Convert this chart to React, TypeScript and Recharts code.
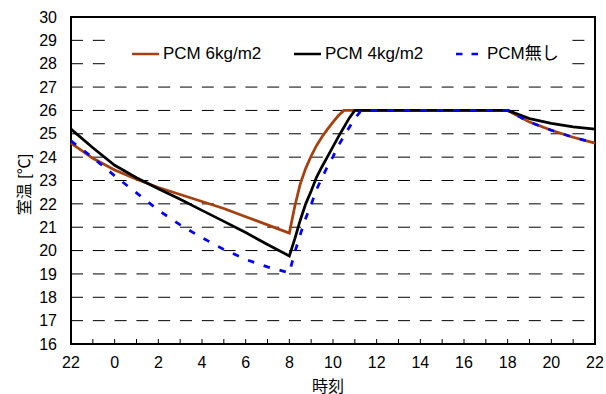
import React from 'react';
import { LineChart, Line, XAxis, YAxis, CartesianGrid, Legend, ReferenceArea } from 'recharts';

// hours after 22:00 (0 = 22時, 24 = 翌22時)
const hours = [
  0, 1, 2, 3, 4, 5, 6, 7, 8, 9, 10,
  10.25, 10.5, 10.75, 11, 11.25, 11.5, 11.75, 12, 12.25, 12.5, 12.75, 13, 13.25, 13.5,
  14, 15, 16, 17, 18, 19, 20, 21, 22, 23, 24,
];

const pcm6 = [
  24.6, 23.95, 23.45, 23.05, 22.7, 22.4, 22.1, 21.8, 21.45, 21.1, 20.75,
  21.9, 22.85, 23.52, 24.05, 24.5, 24.87, 25.2, 25.5, 25.78, 26.0, 26.0, 26.0, 26.0, 26.0,
  26.0, 26.0, 26.0, 26.0, 26.0, 26.0, 26.0, 25.5, 25.15, 24.85, 24.6,
];
const pcm4 = [
  25.2, 24.4, 23.65, 23.12, 22.65, 22.2, 21.72, 21.25, 20.77, 20.26, 19.77,
  20.5, 21.3, 22.0, 22.55, 23.15, 23.6, 24.02, 24.45, 24.88, 25.28, 25.68, 26.0, 26.0, 26.0,
  26.0, 26.0, 26.0, 26.0, 26.0, 26.0, 26.0, 25.65, 25.45, 25.3, 25.2,
];
const noPcm = [
  24.7, 23.98, 23.2, 22.47, 21.73, 21.1, 20.55, 20.05, 19.62, 19.3, 19.05,
  19.93, 20.68, 21.38, 21.97, 22.62, 23.13, 23.6, 24.02, 24.5, 24.9, 25.28, 25.65, 25.95, 26.0,
  26.0, 26.0, 26.0, 26.0, 26.0, 26.0, 26.0, 25.5, 25.15, 24.85, 24.6,
];

const xTicks = [0, 1, 2, 3, 4, 5, 6, 7, 8, 9, 10, 11, 12, 13, 14, 15, 16, 17, 18, 19, 20, 21, 22, 23, 24];
const xTickLabels = ['22', '', '0', '', '2', '', '4', '', '6', '', '8', '', '10', '', '12', '', '14', '', '16', '', '18', '', '20', '', '22'];
const yTicks = [16, 17, 18, 19, 20, 21, 22, 23, 24, 25, 26, 27, 28, 29, 30];

const series = [
  { key: 'pcm6', name: 'PCM 6kg/m2', color: '#a5400f', dash: undefined, legendDash: undefined },
  { key: 'pcm4', name: 'PCM 4kg/m2', color: '#000000', dash: undefined, legendDash: undefined },
  { key: 'noPcm', name: 'PCM無し', color: '#0000ff', dash: '6.5 10', legendDash: '6.5 9' },
];

const data = hours.map((h, i) => ({ h, pcm6: pcm6[i], pcm4: pcm4[i], noPcm: noPcm[i] }));

const HourTick = (props: any) => {
  const { x, y, payload } = props;
  const label = xTickLabels[payload.value] ?? '';
  return (
    <g>
      <line x1={x} y1={y} x2={x} y2={y - 5} stroke="#000" strokeWidth={1} />
      {label && (
        <text x={x} y={y + 24} textAnchor="middle" fontSize={16} fill="#000">
          {label}
        </text>
      )}
    </g>
  );
};

const YLabel = ({ viewBox }: any) => {
  const cx = viewBox.x + 24;
  const cy = viewBox.y + viewBox.height / 2 + 4;
  return (
    <text
      x={cx}
      y={cy}
      transform={`rotate(-90 ${cx} ${cy})`}
      textAnchor="middle"
      dominantBaseline="central"
      fontSize={16}
      fill="#000"
      style={{ fill: '#000', stroke: 'none' }}
    >
      室温 [℃]
    </text>
  );
};

const LegendBox = () => (
  <div style={{ display: 'flex', alignItems: 'center', height: '100%', paddingLeft: 22, boxSizing: 'border-box' }}>
    {series.map((s) => (
      <div key={s.key} style={{ width: 162, flexShrink: 0, display: 'flex', alignItems: 'center' }}>
        <svg width={27} height={6} style={{ display: 'block', flexShrink: 0 }}>
          <line x1={0} y1={3} x2={27} y2={3} stroke={s.color} strokeWidth={2.5} strokeDasharray={s.legendDash} />
        </svg>
        <span style={{ marginLeft: 4, fontSize: 17, color: '#000', lineHeight: '20px', whiteSpace: 'nowrap' }}>{s.name}</span>
      </div>
    ))}
  </div>
);

export default function App() {
  return (
    <div
      style={{
        position: 'absolute',
        left: 0,
        top: 0,
        width: 606,
        height: 394,
        background: '#fff',
        fontFamily: "'Liberation Sans', 'Noto Sans CJK JP', sans-serif",
      }}
    >
      <LineChart width={606} height={394} data={data} margin={{ top: 17, right: 11, bottom: 0, left: 0 }}>
        <CartesianGrid vertical={false} stroke="#000" strokeDasharray="12 9.8" />
        <XAxis
          dataKey="h"
          type="number"
          domain={[0, 24]}
          ticks={xTicks}
          interval={0}
          tick={<HourTick />}
          tickSize={0}
          tickMargin={0}
          axisLine={false}
          tickLine={false}
          height={50}
          label={{ value: '時刻', position: 'insideBottom', offset: 2, dx: -5, fontSize: 16, fill: '#000' }}
        />
        <YAxis
          type="number"
          domain={[16, 30]}
          ticks={yTicks}
          interval={0}
          width={71}
          axisLine={false}
          tickLine={false}
          tickSize={0}
          tickMargin={14}
          tick={{ fontSize: 16, fill: '#000' }}
          label={<YLabel />}
        />
        <ReferenceArea x1={0} x2={24} y1={16} y2={30} fill="none" stroke="#000" strokeWidth={2} ifOverflow="visible" />
        <Legend
          content={<LegendBox />}
          layout="horizontal"
          verticalAlign="middle"
          align="center"
          wrapperStyle={{ left: 110, top: 32, width: 462, height: 43, backgroundColor: '#fff' }}
        />
        {series.map((s) => (
          <Line
            key={s.key}
            type="linear"
            dataKey={s.key}
            name={s.name}
            stroke={s.color}
            strokeWidth={2.75}
            strokeDasharray={s.dash}
            dot={false}
            activeDot={false}
            isAnimationActive={false}
          />
        ))}
      </LineChart>
    </div>
  );
}
